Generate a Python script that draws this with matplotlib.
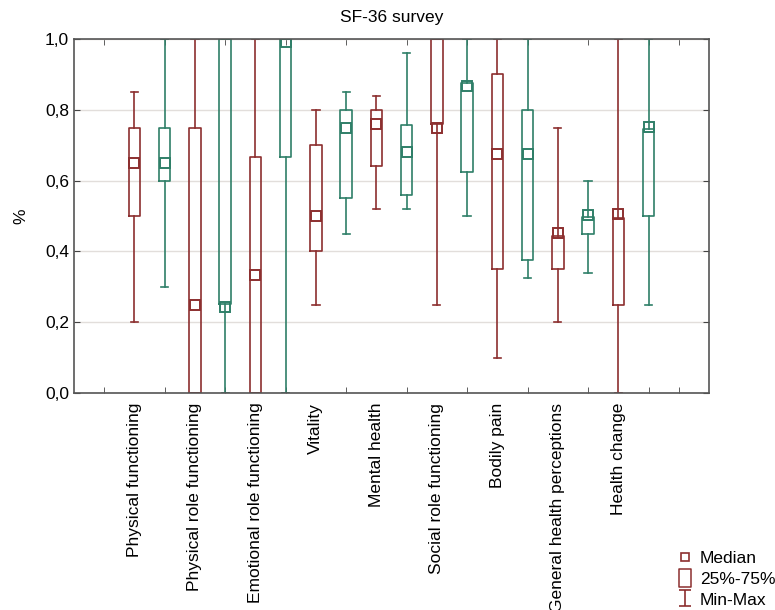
import numpy as np
import matplotlib.pyplot as plt
from matplotlib.lines import Line2D
from matplotlib.path import Path
from matplotlib.ticker import FuncFormatter, FixedLocator

plt.rcParams['font.family'] = ['Liberation Sans', 'DejaVu Sans']

categories = ['Physical functioning', 'Physical role functioning', 'Emotional role functioning',
              'Vitality', 'Mental health', 'Social role functioning', 'Bodily pain',
              'General health perceptions', 'Health change']

# first group (red)
redMin = [0.20, 0.00, 0.00, 0.25, 0.52, 0.25, 0.10, 0.20, 0.00]
redQ1 = [0.50, 0.00, 0.00, 0.40, 0.64, 0.76, 0.35, 0.35, 0.25]
redMed = [0.65, 0.25, 0.333, 0.50, 0.76, 0.748, 0.675, 0.452, 0.505]
redQ3 = [0.75, 0.75, 0.667, 0.70, 0.80, 1.00, 0.90, 0.443, 0.495]
redMax = [0.85, 1.00, 1.00, 0.80, 0.84, 1.00, 1.00, 0.75, 1.00]

# second group (green)
greenMin = [0.30, 0.00, 0.00, 0.45, 0.52, 0.50, 0.325, 0.34, 0.25]
greenQ1 = [0.60, 0.252, 0.667, 0.55, 0.56, 0.625, 0.375, 0.45, 0.50]
greenMed = [0.65, 0.244, 0.992, 0.75, 0.68, 0.868, 0.675, 0.502, 0.752]
greenQ3 = [0.75, 1.00, 1.00, 0.80, 0.756, 0.875, 0.80, 0.497, 0.746]
greenMax = [1.00, 1.00, 1.00, 0.85, 0.96, 1.00, 1.00, 0.60, 1.00]

red = '#8c2f2f'
green = '#2f7f68'

def makeStats(lo, q1, med, q3, hi):
    stats = []
    for i in range(len(lo)):
        stats.append({'whislo': lo[i], 'q1': q1[i], 'med': med[i], 'mean': med[i],
                      'q3': q3[i], 'whishi': hi[i], 'fliers': []})
    return stats

def drawGroup(ax, stats, positions, color):
    lineProps = dict(color=color, linewidth=1.2)
    ax.bxp(stats, positions=positions, widths=0.38, capwidths=0.24,
           showmeans=True, showfliers=False, patch_artist=False,
           boxprops=lineProps, whiskerprops=lineProps, capprops=lineProps,
           medianprops=dict(linewidth=0),
           meanprops=dict(marker='s', markersize=7, markerfacecolor='none',
                          markeredgecolor=color, markeredgewidth=1.4),
           manage_ticks=False)

fig = plt.figure(figsize=(7.75, 6.1), dpi=100)
ax = fig.add_axes([74/775, 1 - 393/610, (709 - 74)/775, (393 - 39)/610])

n = len(categories)
redPos = np.arange(n) * 2 + 2
greenPos = redPos + 1

drawGroup(ax, makeStats(redMin, redQ1, redMed, redQ3, redMax), redPos, red)
drawGroup(ax, makeStats(greenMin, greenQ1, greenMed, greenQ3, greenMax), greenPos, green)

ax.set_xlim(0, 2 * n + 3)
ax.set_ylim(0, 1.0)
ax.set_yticks([0, 0.2, 0.4, 0.6, 0.8, 1.0])
ax.yaxis.set_major_formatter(FuncFormatter(lambda v, p: '{:.1f}'.format(v).replace('.', ',')))
ax.yaxis.grid(True, color='#e2dedb', linewidth=1.0)
ax.set_axisbelow(True)

# minor ticks mark every slot, category names sit under the first box of each pair
ax.xaxis.set_minor_locator(FixedLocator(np.arange(1, 2 * n + 3)))
ax.set_xticks(redPos)
ax.set_xticklabels(categories, rotation=90, fontsize=12.5, va='top', ha='center')
ax.tick_params(axis='x', which='major', length=0, pad=7)
ax.tick_params(axis='x', which='minor', direction='in', length=4, top=True, bottom=True,
               color='#444444')
ax.tick_params(axis='y', direction='in', length=4, right=True, labelsize=12.5, color='#444444')
for s in ax.spines.values():
    s.set_color('#555555')
    s.set_linewidth(1.2)

ax.set_ylabel('%', fontsize=12.5, labelpad=12)
ax.set_title('SF-36 survey', fontsize=12.5, pad=12)

minMaxPath = Path([(-0.35, -0.5), (0.35, -0.5), (0, -0.5), (0, 0.5), (-0.35, 0.5), (0.35, 0.5)],
                  [Path.MOVETO, Path.LINETO, Path.MOVETO, Path.LINETO, Path.MOVETO, Path.LINETO])
boxPath = Path([(-0.35, -0.5), (0.35, -0.5), (0.35, 0.5), (-0.35, 0.5), (-0.35, -0.5)],
               [Path.MOVETO, Path.LINETO, Path.LINETO, Path.LINETO, Path.CLOSEPOLY])
handles = [
    Line2D([], [], linestyle='none', marker='s', markersize=5.5, markerfacecolor='none',
           markeredgecolor=red, markeredgewidth=1.2),
    Line2D([], [], linestyle='none', marker=boxPath, markersize=13, markerfacecolor='none',
           markeredgecolor=red, markeredgewidth=1.1),
    Line2D([], [], linestyle='none', marker=minMaxPath, markersize=12,
           markeredgecolor=red, markeredgewidth=1.2),
]
fig.legend(handles, ['Median', '25%-75%', 'Min-Max'], loc='upper left',
           bbox_to_anchor=(678/775, 1 - 551/610), frameon=False, fontsize=12.5,
           handlelength=0.8, handletextpad=0.45, labelspacing=0.32, borderaxespad=0,
           borderpad=0)

fig.savefig('out.png', dpi=100)
